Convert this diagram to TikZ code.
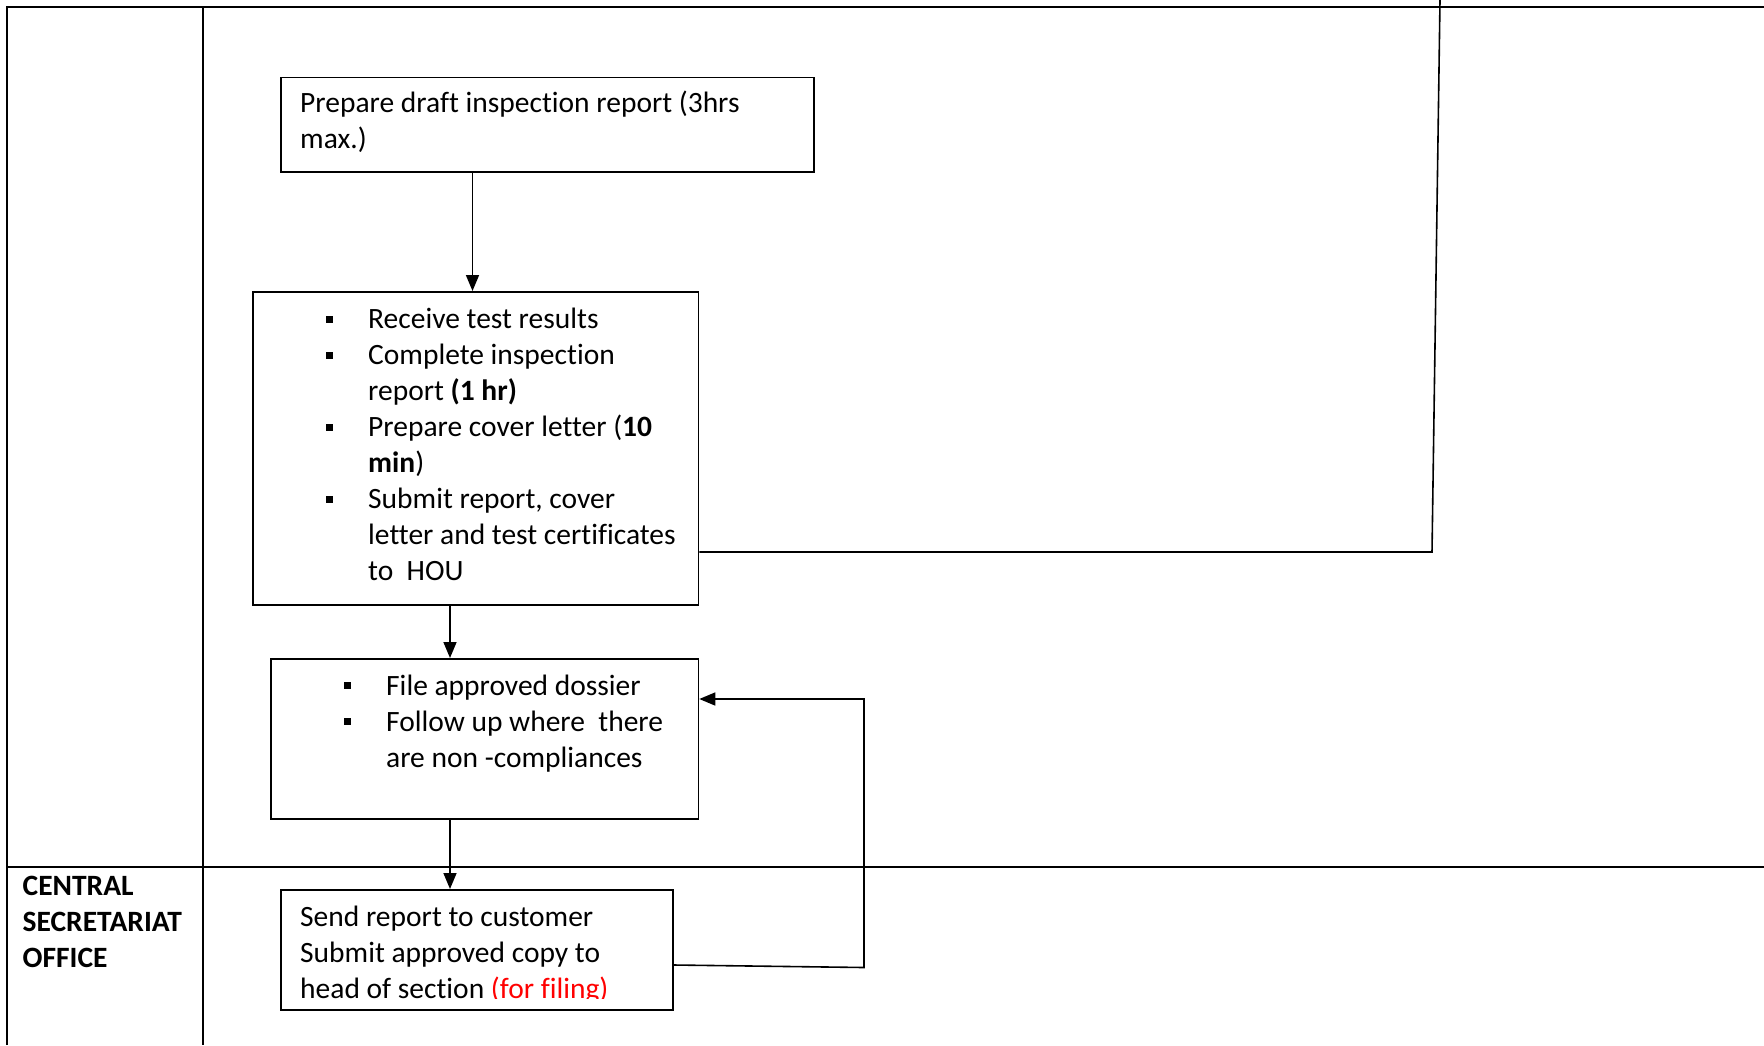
\documentclass[tikz,border=0pt]{standalone}
\usepackage{fontspec}
\setmainfont{Carlito}[Ligatures=NoCommon]
\usetikzlibrary{arrows.meta}
\newcommand\sqb{\leavevmode\llap{\raisebox{6pt}{\rule{7pt}{7pt}}\hspace{35pt}}}
\begin{document}
\begin{tikzpicture}[x=1pt,y=-1pt,
  frame/.style={line width=2pt},
  box/.style={draw,line width=1.8pt,inner sep=0pt,anchor=north west},
  txt/.style={inner sep=0pt,anchor=base west,font=\fontsize{29.5}{36}\selectfont},
  conn/.style={line width=1.6pt},
  arr/.style={conn,-{Triangle[length=16pt,width=13pt]}}]
\useasboundingbox (0,0) rectangle (1764,1045);
% lanes
\draw[frame] (7,1045) -- (7,7) -- (1764,7);
\draw[frame] (202.5,7) -- (202.5,1045);
\draw[frame] (7,867) -- (1764,867);
\node[txt] (lane) at (22.5,895.5) {\parbox[t]{170pt}{\bfseries CENTRAL\\SECRETARIAT\\OFFICE}};
% boxes
\node[box,minimum width=533pt,minimum height=94.5pt] (b1) at (280,76.5) {};
\node[box,minimum width=445.5pt,minimum height=313pt] (b2) at (252,291) {};
\node[box,minimum width=427.5pt,minimum height=160pt] (b3) at (270,658) {};
\node[box,minimum width=392pt,minimum height=120pt] (b4) at (280,889) {};
% texts
\node[txt] (t1) at (300,112.5) {\parbox[t]{500pt}{Prepare draft inspection report (3hrs\\max.)}};
\node[txt] (t2) at (368,328.5) {\parbox[t]{320pt}{\sqb Receive test results\\
\sqb Complete inspection\\
report \textbf{(1 hr)}\\
\sqb Prepare cover letter (\textbf{10}\\
\textbf{min})\\
\sqb Submit report, cover\\
letter and test certificates\\
to\ \ HOU}};
\node[txt] (t3) at (386,695) {\parbox[t]{300pt}{\sqb File approved dossier\\
\sqb Follow up where\ \ there\\
are non -compliances}};
\begin{scope}
\clip (280,889) rectangle (672,998);
\node[txt] (t4) at (300,926) {\parbox[t]{360pt}{Send report to customer\\
Submit approved copy to\\
head of section \textcolor{red}{(for filing)}}};
\end{scope}
% connectors
\coordinate (xa) at (472.5,0);
\coordinate (xb) at (450,0);
\draw[arr] (b1.south -| xa) -- (b2.north -| xa);
\draw[arr] (b2.south -| xb) -- (b3.north -| xb);
\draw[arr] (b3.south -| xb) -- (b4.north -| xb);
\coordinate (yf) at (0,965);
\coordinate (fb1) at (864,967.5);
\coordinate (fb2) at (864,699);
\draw[arr] (b4.east |- yf) -- (fb1) -- (fb2) -- (b3.east |- fb2);
\coordinate (d1) at (1432,552);
\coordinate (d2) at (1440,0);
\draw[conn] (b2.east |- d1) -- (d1) -- (d2);
\end{tikzpicture}
\end{document}
